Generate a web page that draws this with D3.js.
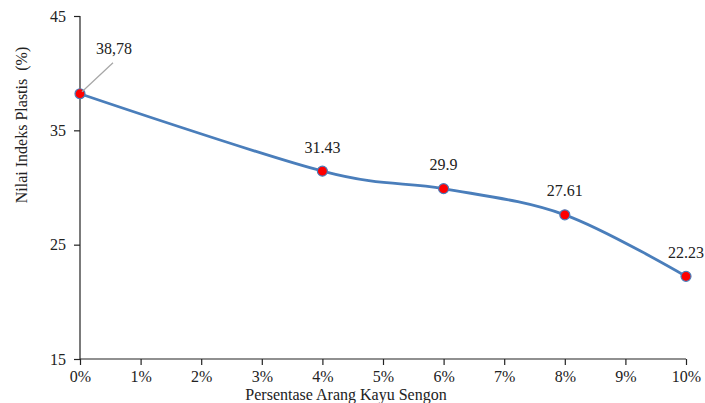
<!DOCTYPE html>
<html><head><meta charset="utf-8">
<script src="https://cdn.jsdelivr.net/npm/d3@7/dist/d3.min.js"></script>
<style>body{margin:0;background:#fff}svg{display:block}text{font-family:"Liberation Serif","Tinos","Times New Roman","DejaVu Serif",serif !important;fill:#222}</style>
</head><body><svg id="c" width="705" height="403"></svg>
<script>
const xValues = [0, 4, 6, 8, 10];
const yValues = [38.2, 31.43, 29.9, 27.61, 22.23];
const pointLabels = ["38,78", "31.43", "29.9", "27.61", "22.23"];
const xTicks = [0,1,2,3,4,5,6,7,8,9,10];
const yTicks = [15, 25, 35, 45];
const xTitle = "Persentase Arang Kayu Sengon";
const yTitle = "Nilai Indeks Plastis  (%)";

const svg = d3.select("#c");
const x = d3.scaleLinear().domain([0,10]).range([80,686]);
const y = d3.scaleLinear().domain([15,45]).range([359,16]);

const gx = svg.append("g").attr("transform","translate(0,359)")
  .call(d3.axisBottom(x).tickValues(xTicks).tickFormat(d=>d+"%").tickSizeOuter(0).tickSize(6).tickPadding(6));
const gy = svg.append("g").attr("transform","translate(80,0)")
  .call(d3.axisLeft(y).tickValues(yTicks).tickSizeOuter(0).tickSize(6).tickPadding(8));
[gx,gy].forEach(g=>{
  g.attr("font-family",null);
  g.selectAll("path,line").attr("stroke","#222").attr("stroke-width",1.2);
  g.selectAll("text").style("font-size","16px").attr("fill","#222");
});
gx.select(".domain").attr("d","M80,0H686");
gy.select(".domain").attr("d","M0,16V359");

const data = xValues.map((v,i)=>({x:v,y:yValues[i],l:pointLabels[i]}));
svg.append("path").datum(data)
  .attr("d", d3.line().x(d=>x(d.x)).y(d=>y(d.y)).curve(d3.curveCatmullRom.alpha(0)))
  .attr("fill","none").attr("stroke","#4a7ebb").attr("stroke-width",2.8);

svg.selectAll("circle.m").data(data).join("circle")
  .attr("cx",d=>x(d.x)).attr("cy",d=>y(d.y)).attr("r",5)
  .attr("fill","#ff0000").attr("stroke","#4a7ebb").attr("stroke-width",1.2);

svg.append("line").attr("x1",x(data[0].x)+2).attr("y1",y(data[0].y)-2)
  .attr("x2",x(data[0].x)+33).attr("y2",y(data[0].y)-31)
  .attr("stroke","#a6a6a6").attr("stroke-width",1.2);

const offs = [[34,-45],[0,-24],[0,-24],[0,-24],[0,-24]];
svg.selectAll("text.lab").data(data).join("text").attr("class","lab")
  .attr("x",(d,i)=>x(d.x)+offs[i][0]).attr("y",(d,i)=>y(d.y)+offs[i][1])
  .attr("text-anchor","middle").attr("dominant-baseline","central")
  .style("font-size","16px").text(d=>d.l);

svg.append("text").attr("x",346).attr("y",394).attr("text-anchor","middle")
  .attr("dominant-baseline","central").style("font-size","16px").text(xTitle);
svg.append("text").attr("transform","translate(21,125) rotate(-90)").attr("text-anchor","middle")
  .attr("dominant-baseline","central").style("font-size","16px").style("white-space","pre").text(yTitle);
</script></body></html>
